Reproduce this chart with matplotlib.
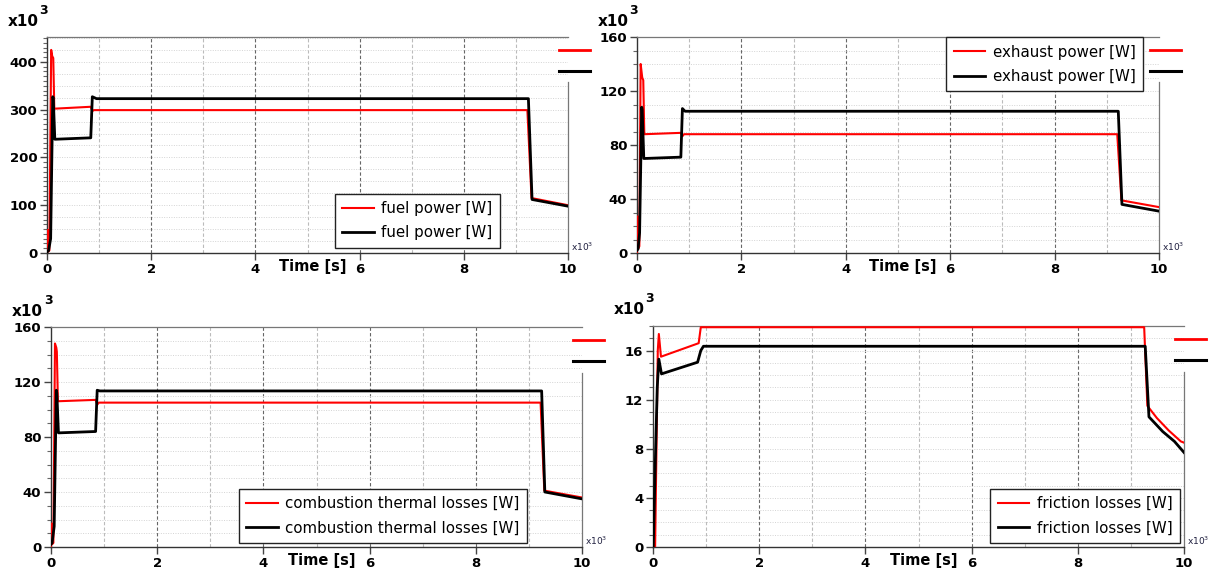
import numpy as np
import matplotlib
matplotlib.use('Agg')
import matplotlib.pyplot as plt
from matplotlib.lines import Line2D
from matplotlib.ticker import MultipleLocator

W, H = 1220, 577
RED = '#ff0000'
BLK = '#000000'

###############################################################################
### Data  (time in 10^3 s, power in 10^3 W)
###############################################################################
fuel_red_t = [0, 0.005, 0.015, 0.02, 0.045, 0.08, 0.10, 0.12, 0.14, 0.84, 0.87, 0.90, 9.22, 9.30, 10.0]
fuel_red = [0, 48, 48, 3, 5, 425, 412, 408, 302, 306, 297, 299, 299, 115, 100]
fuel_blk_t = [0, 0.03, 0.07, 0.11, 0.12, 0.15, 0.84, 0.87, 0.95, 9.24, 9.31, 10.0]
fuel_blk = [2, 5, 30, 327, 325, 238, 241, 327, 323, 323, 112, 98]

exh_red_t = [0, 0.005, 0.015, 0.02, 0.045, 0.07, 0.10, 0.12, 0.14, 0.84, 0.87, 0.90, 9.20, 9.28, 10.0]
exh_red = [0, 27, 27, 3, 5, 140, 130, 128, 88, 89, 86.5, 88, 88, 39, 34]
exh_blk_t = [0, 0.02, 0.05, 0.09, 0.10, 0.13, 0.84, 0.87, 0.92, 9.22, 9.29, 10.0]
exh_blk = [2, 3, 15, 108, 106, 70, 71, 107, 105, 105, 36, 31]

comb_red_t = [0, 0.005, 0.015, 0.02, 0.045, 0.075, 0.10, 0.11, 0.13, 0.84, 0.87, 0.90, 9.22, 9.29, 10.0]
comb_red = [0, 17, 17, 2, 3, 148, 145, 142, 106, 107, 103.5, 105, 105, 41, 36]
comb_blk_t = [0, 0.02, 0.06, 0.10, 0.11, 0.14, 0.84, 0.87, 0.92, 9.24, 9.30, 10.0]
comb_blk = [2, 3, 15, 114, 112, 83, 84, 114, 113.5, 113.5, 40, 35]

fric_red_t = [0, 0.04, 0.09, 0.11, 0.15, 0.86, 0.90, 9.25, 9.31, 9.49, 9.71, 9.94, 10.0]
fric_red = [0, 0, 16, 17.35, 15.5, 16.6, 17.9, 17.9, 11.5, 10.5, 9.5, 8.6, 8.5]
fric_blk_t = [0, 0.005, 0.05, 0.08, 0.11, 0.16, 0.84, 0.90, 0.95, 9.27, 9.34, 9.60, 9.82, 10.0]
fric_blk = [0, 0, 8, 13, 15.3, 14.1, 15.05, 16.0, 16.35, 16.35, 10.6, 9.4, 8.6, 7.7]

labels = ['fuel power [W]', 'exhaust power [W]',
          'combustion thermal losses [W]', 'friction losses [W]']
y_max = [452, 160, 160, 18]
y_major = [100, 40, 40, 4]
y_minor = [10, 10, 10, 1]

###############################################################################
### Layout (pixel boxes: left, top, right, bottom)
###############################################################################
boxes = [(47, 37, 568, 253), (637, 37, 1159, 253),
         (51, 327, 582, 547), (653, 326, 1184, 547)]
leg_pos = [('lower right', 500, 248), ('upper right', 1143, 37),
           ('lower right', 527, 543), ('lower right', 1180, 543)]

fig = plt.figure(figsize=(W / 100, H / 100), dpi=100)


def fx(px):
    return px / W


def fy(py):
    return 1 - py / H


series = [(fuel_red_t, fuel_red, fuel_blk_t, fuel_blk),
          (exh_red_t, exh_red, exh_blk_t, exh_blk),
          (comb_red_t, comb_red, comb_blk_t, comb_blk),
          (fric_red_t, fric_red, fric_blk_t, fric_blk)]

for i in range(4):
    l, t, r, b = boxes[i]
    ax = fig.add_axes([fx(l), fy(b), (r - l) / W, (b - t) / H])
    tr, vr, tk, vk = series[i]
    ax.plot(tr, vr, color=RED, lw=1.5, label=labels[i], zorder=3)
    ax.plot(tk, vk, color=BLK, lw=2.0, label=labels[i], zorder=4)

    ax.set_xlim(0, 10)
    ax.set_ylim(0, y_max[i])

    # grid
    for xv in range(1, 10):
        if xv % 2 == 0:
            ax.axvline(xv, color='#666666', lw=0.8, ls=(0, (3, 2)), zorder=1)
        else:
            ax.axvline(xv, color='#bbbbbb', lw=0.8, ls=(0, (3, 2)), zorder=1)
    step = y_major[i] / 4
    for yv in np.arange(step, y_max[i], step):
        ax.axhline(yv, color='#d4d4d4', lw=0.7, ls=(0, (1, 1.5)), zorder=1)

    ax.xaxis.set_major_locator(MultipleLocator(2))
    ax.yaxis.set_major_locator(MultipleLocator(y_major[i]))
    ax.yaxis.set_minor_locator(MultipleLocator(y_minor[i]))
    ax.tick_params(axis='both', which='major', direction='out', length=5,
                   width=1, labelsize=9.5, pad=2, color='#444444')
    ax.tick_params(axis='y', which='minor', direction='out', length=3,
                   width=0.8, color='#666666')
    ax.tick_params(axis='x', which='minor', bottom=False)
    for lab in ax.get_xticklabels() + ax.get_yticklabels():
        lab.set_fontweight('bold')
    ax.xaxis.set_major_formatter(plt.FuncFormatter(lambda v, p: '%d' % v))
    ax.yaxis.set_major_formatter(plt.FuncFormatter(lambda v, p: '%d' % v))

    for s in ['left', 'bottom']:
        ax.spines[s].set_color('#333333')
        ax.spines[s].set_linewidth(1)
    for s in ['top', 'right']:
        ax.spines[s].set_color('#777777')
        ax.spines[s].set_linewidth(0.9)
    ax.spines['right'].set_bounds(0, y_max[i] * 0.79)

    ax.annotate('Time [s]', xy=(5.1, 0), xycoords=('data', 'axes fraction'),
                xytext=(0, -4), textcoords='offset points', ha='center',
                va='top', fontsize=10.5, fontweight='bold')

    loc, lx, ly = leg_pos[i]
    leg = ax.legend(loc=loc, bbox_to_anchor=(fx(lx), fy(ly)),
                    bbox_transform=fig.transFigure, borderaxespad=0,
                    fontsize=10.8, fancybox=False, framealpha=1,
                    edgecolor='#222222', handlelength=2.1,
                    labelspacing=0.62, borderpad=0.5, handletextpad=0.5)
    leg.get_frame().set_linewidth(1)
    leg.set_zorder(10)

    # colour keys right of the axes
    fig.add_artist(Line2D([fx(r - 9), fx(r + 22)], [fy(t + 13)] * 2,
                          color=RED, lw=2.0, transform=fig.transFigure))
    fig.add_artist(Line2D([fx(r - 9), fx(r + 22)], [fy(t + 34)] * 2,
                          color=BLK, lw=2.2, transform=fig.transFigure))

    # multipliers
    fig.text(fx(l - 24), fy(t - 16), 'x10', ha='center', va='center',
             fontsize=11, fontweight='bold')
    fig.text(fx(l - 3), fy(t - 27), '3', ha='center', va='center',
             fontsize=9, fontweight='bold')
    fig.text(fx(r + 3), fy(b - 6), r'x10$^3$', ha='left', va='center',
             fontsize=6.5, color='#202040')

fig.savefig('out.png', dpi=100)
